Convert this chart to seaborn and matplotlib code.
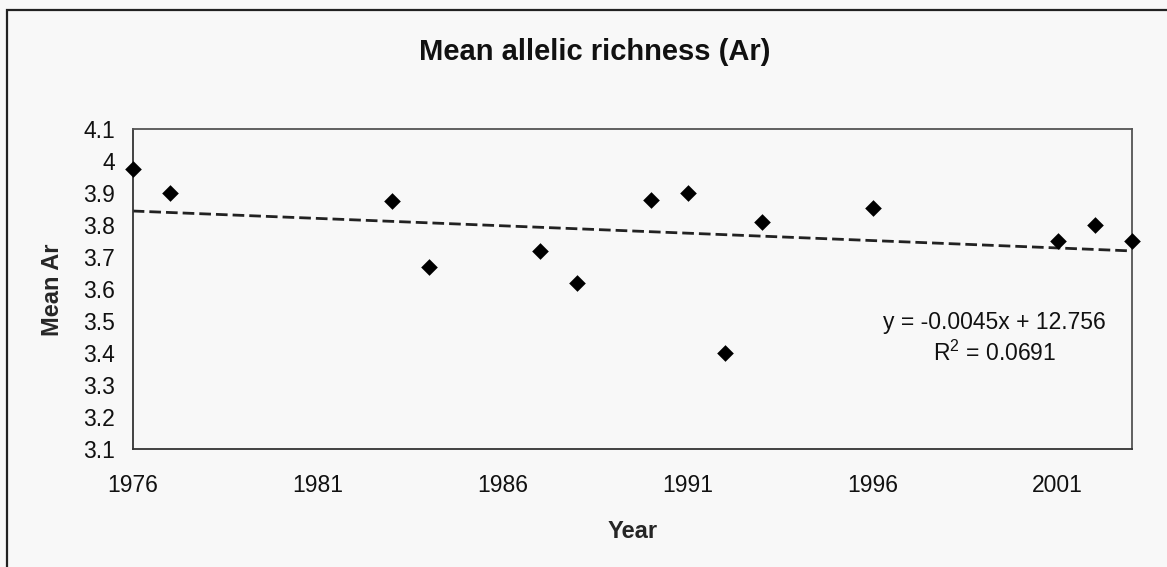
import numpy as np
import pandas as pd
import seaborn as sns
import matplotlib.pyplot as plt
from matplotlib.patches import Rectangle

# data
years = [1976, 1977, 1983, 1984, 1987, 1988, 1990, 1991, 1992, 1993, 1996, 2001, 2002, 2003]
mean_ar = [3.975, 3.90, 3.875, 3.67, 3.72, 3.62, 3.88, 3.90, 3.40, 3.81, 3.855, 3.75, 3.80, 3.75]

x_ticks = [1976, 1981, 1986, 1991, 1996, 2001]
y_ticks = [3.1, 3.2, 3.3, 3.4, 3.5, 3.6, 3.7, 3.8, 3.9, 4.0, 4.1]
y_tick_labels = ["3.1", "3.2", "3.3", "3.4", "3.5", "3.6", "3.7", "3.8", "3.9", "4", "4.1"]

title = "Mean allelic richness (Ar)"
eq_text = "y = -0.0045x + 12.756"
r2_text = "R$^2$ = 0.0691"

df = pd.DataFrame({"Year": years, "Mean Ar": mean_ar})

sns.set_style("white")
plt.rcParams["font.family"] = ["Liberation Sans", "DejaVu Sans"]
plt.rcParams["mathtext.fontset"] = "custom"
plt.rcParams["mathtext.rm"] = "Liberation Sans"
plt.rcParams["mathtext.default"] = "regular"

bg = "#f8f8f8"
fig = plt.figure(figsize=(11.67, 5.67), dpi=100, facecolor=bg)
ax = fig.add_axes([0.1137, 0.2076, 0.8561, 0.5644])
ax.set_facecolor(bg)

# outer chart border (right / bottom edges run off the picture)
fig.patches.append(Rectangle((7 / 1167, -0.1), 1.2, 1.1 - 10 / 567,
                             transform=fig.transFigure, fill=False,
                             edgecolor="#222222", linewidth=1.6))

sns.regplot(data=df, x="Year", y="Mean Ar", ax=ax, ci=None, marker="D",
            scatter_kws=dict(s=72, color="black", edgecolors="black",
                             linewidths=0, clip_on=False, zorder=3, alpha=1),
            line_kws=dict(color="#222222", linewidth=2.0, dashes=(4.2, 1.8)))

ax.set_xlim(1976, 2003)
ax.set_ylim(3.1, 4.1)
ax.set_xticks(x_ticks)
ax.set_xticklabels([str(t) for t in x_ticks])
ax.set_yticks(y_ticks)
ax.set_yticklabels(y_tick_labels)
ax.tick_params(axis="both", direction="out", length=4.5, width=1, color="#333333",
               labelsize=16.5, labelcolor="#111111")
ax.tick_params(axis="x", pad=13)
ax.tick_params(axis="y", pad=8)

for side, sp in ax.spines.items():
    sp.set_visible(True)
    sp.set_color("#333333" if side in ("left", "bottom") else "#555555")
    sp.set_linewidth(1.3)

ax.set_xlabel("Year", fontsize=17, fontweight="bold", labelpad=17)
ax.set_ylabel("Mean Ar", fontsize=17, fontweight="bold", labelpad=14)

fig.text(0.510, 1 - 60 / 567, title, ha="center", va="baseline",
         fontsize=21, fontweight="bold", color="#111111")

ax.text(1999.3, 3.476, eq_text, ha="center", va="baseline", fontsize=16.5, color="#111111")
ax.text(1999.3, 3.377, r2_text, ha="center", va="baseline", fontsize=16.5, color="#111111")

fig.savefig("out.png", dpi=100, facecolor=bg)
